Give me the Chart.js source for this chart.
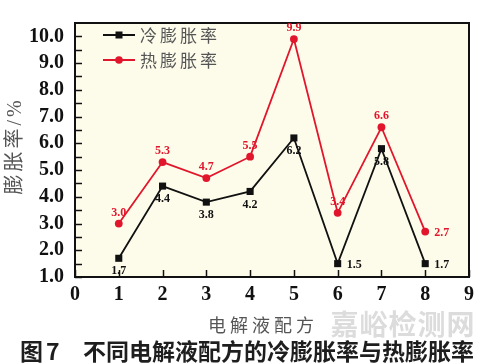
<!DOCTYPE html>
<html><head><meta charset="utf-8">
<script src="https://cdn.jsdelivr.net/npm/chart.js@4"></script>
<style>html,body{margin:0;padding:0;background:#fff;}#wrap{width:487px;height:364px;position:relative;}</style>
</head><body><div id="wrap"><canvas id="c" width="487" height="364"></canvas></div>
<script>
const categories = [1, 2, 3, 4, 5, 6, 7, 8];
const coldValues = [1.7, 4.4, 3.8, 4.2, 6.2, 1.5, 5.8, 1.5];
const hotValues = [3.0, 5.3, 4.7, 5.5, 9.9, 3.4, 6.6, 2.7];
const coldText = ['1.7', '4.4', '3.8', '4.2', '6.2', '1.5', '5.8', '1.7'];
const hotText = ['3.0', '5.3', '4.7', '5.5', '9.9', '3.4', '6.6', '2.7'];
const xTicks = [0, 1, 2, 3, 4, 5, 6, 7, 8, 9];
const yTicks = [1, 2, 3, 4, 5, 6, 7, 8, 9, 10];
const yMinorTicks = [1.5, 2.5, 3.5, 4.5, 5.5, 6.5, 7.5, 8.5, 9.5];
const seriesNames = ['冷膨胀率', '热膨胀率'];
const xTitle = '电解液配方';
const yTitle = '膨胀率/%';
const captionNo = '图7';
const captionText = '不同电解液配方的冷膨胀率与热膨胀率';
const watermark = '嘉峪检测网';

// label placement (style, not data)
const coldPos = ['below', 'below', 'below', 'below', 'below', 'right', 'below', 'right'];
const hotPos = ['above', 'above', 'above', 'above', 'above', 'above', 'above', 'right'];

const RED = '#e1162c';
const BLACK = '#111111';
const SERIF = '"Liberation Serif", "Times New Roman", serif';
const CJK = '"Noto Sans CJK SC", sans-serif';

const bgPlugin = {
  id: 'bg',
  beforeDraw(chart) {
    const { ctx, chartArea: a } = chart;
    ctx.save();
    ctx.fillStyle = '#fdfbea';
    ctx.fillRect(a.left, a.top, a.right - a.left, a.bottom - a.top);
    ctx.restore();
  },
  beforeDatasetsDraw(chart) {
    const { ctx, chartArea: a, scales } = chart;
    ctx.save();
    ctx.strokeStyle = BLACK;
    ctx.lineWidth = 1.5;
    const L = 7;
    yTicks.concat(yMinorTicks).forEach(v => {
      const y = Math.round(scales.y.getPixelForValue(v)) + 0.5;
      ctx.beginPath(); ctx.moveTo(a.left, y); ctx.lineTo(a.left + L, y); ctx.stroke();
    });
    xTicks.forEach(v => {
      const x = Math.round(scales.x.getPixelForValue(v)) + 0.5;
      ctx.beginPath(); ctx.moveTo(x, a.bottom); ctx.lineTo(x, a.bottom - L); ctx.stroke();
    });
    ctx.lineWidth = 2;
    ctx.beginPath();
    ctx.moveTo(a.left, a.top); ctx.lineTo(a.right, a.top); ctx.lineTo(a.right, a.bottom);
    ctx.stroke();
    ctx.restore();
  },
  afterDatasetsDraw(chart) {
    const { ctx } = chart;
    ctx.save();
    ctx.font = 'bold 12px ' + SERIF;
    const drawLabels = (dsIndex, texts, pos, color) => {
      const meta = chart.getDatasetMeta(dsIndex);
      ctx.fillStyle = color;
      meta.data.forEach((pt, i) => {
        const p = pos[i];
        if (p === 'right') {
          ctx.textAlign = 'left'; ctx.textBaseline = 'middle';
          ctx.fillText(texts[i], pt.x + 9, pt.y + 1);
        } else if (p === 'above') {
          ctx.textAlign = 'center'; ctx.textBaseline = 'middle';
          ctx.fillText(texts[i], pt.x, pt.y - 11);
        } else {
          ctx.textAlign = 'center'; ctx.textBaseline = 'middle';
          ctx.fillText(texts[i], pt.x, pt.y + 13);
        }
      });
    };
    drawLabels(0, coldText, coldPos, BLACK);
    drawLabels(1, hotText, hotPos, RED);
    ctx.restore();
  },
  afterDraw(chart) {
    const { ctx } = chart;
    ctx.save();
    // legend
    const rows = [
      { y: 35, color: BLACK, shape: 'rect', name: chart.data.datasets[0].label },
      { y: 60, color: RED, shape: 'circle', name: chart.data.datasets[1].label }
    ];
    rows.forEach(r => {
      ctx.strokeStyle = r.color; ctx.fillStyle = r.color; ctx.lineWidth = 2;
      ctx.beginPath(); ctx.moveTo(103, r.y); ctx.lineTo(135, r.y); ctx.stroke();
      if (r.shape === 'rect') ctx.fillRect(115.5, r.y - 3.5, 7, 7);
      else { ctx.beginPath(); ctx.arc(119, r.y, 3.8, 0, Math.PI * 2); ctx.fill(); }
      ctx.fillStyle = '#555';
      ctx.font = '17px ' + CJK;
      ctx.letterSpacing = '3px';
      ctx.textAlign = 'left'; ctx.textBaseline = 'middle';
      ctx.fillText(r.name, 140, r.y + 1);
    });
    // y title
    ctx.save();
    ctx.translate(16, 146);
    ctx.rotate(-Math.PI / 2);
    ctx.font = '20px "Liberation Serif", ' + CJK;
    ctx.letterSpacing = '3px';
    ctx.fillStyle = '#555';
    ctx.textAlign = 'center'; ctx.textBaseline = 'middle';
    ctx.fillText(yTitle, 0, 0);
    ctx.restore();
    // x title
    ctx.font = '18px ' + CJK;
    ctx.letterSpacing = '4px';
    ctx.fillStyle = '#555';
    ctx.textAlign = 'center'; ctx.textBaseline = 'middle';
    ctx.fillText(xTitle, 263, 325);
    // watermark
    ctx.font = 'bold 28px ' + CJK;
    ctx.letterSpacing = '1px';
    ctx.fillStyle = '#dcdcdc';
    ctx.fillText(watermark, 403, 324);
    // caption
    ctx.font = 'bold 23px ' + CJK;
    ctx.fillStyle = '#1e1e1e';
    ctx.letterSpacing = '3px';
    ctx.textAlign = 'left';
    ctx.fillText(captionNo, 20, 351);
    ctx.letterSpacing = '0px';
    ctx.fillText(captionText, 83, 351);
    ctx.restore();
  }
};

const tickFont = { family: SERIF, weight: 'bold', size: 20 };

new Chart(document.getElementById('c'), {
  type: 'line',
  data: {
    datasets: [
      {
        label: seriesNames[0],
        data: categories.map((c, i) => ({ x: c, y: coldValues[i] })),
        borderColor: BLACK, backgroundColor: BLACK, borderWidth: 1.8,
        pointStyle: 'rect', pointRadius: 5, pointBorderWidth: 0, tension: 0
      },
      {
        label: seriesNames[1],
        data: categories.map((c, i) => ({ x: c, y: hotValues[i] })),
        borderColor: RED, backgroundColor: RED, borderWidth: 1.8,
        pointStyle: 'circle', pointRadius: 3.9, pointBorderWidth: 0, tension: 0
      }
    ]
  },
  options: {
    responsive: false,
    animation: false,
    devicePixelRatio: 1,
    layout: { padding: { top: 5, right: 18, left: 0, bottom: 0 } },
    plugins: { legend: { display: false }, tooltip: { enabled: false } },
    scales: {
      x: {
        type: 'linear', min: 0, max: 9,
        afterBuildTicks: s => { s.ticks = xTicks.map(v => ({ value: v })); },
        afterFit: s => { s.height = 87; },
        ticks: { font: tickFont, color: BLACK, padding: 6, maxRotation: 0, autoSkip: false, callback: v => String(v) },
        grid: { drawOnChartArea: false, drawTicks: false },
        border: { color: BLACK, width: 2 }
      },
      y: {
        type: 'linear', min: 1, max: 10.5,
        afterBuildTicks: s => { s.ticks = yTicks.map(v => ({ value: v })); },
        afterFit: s => { s.width = 75; },
        ticks: { font: tickFont, color: BLACK, padding: 11, autoSkip: false, callback: v => Number(v).toFixed(1) },
        grid: { drawOnChartArea: false, drawTicks: false },
        border: { color: BLACK, width: 2 }
      }
    }
  },
  plugins: [bgPlugin]
});
</script>
</body></html>
